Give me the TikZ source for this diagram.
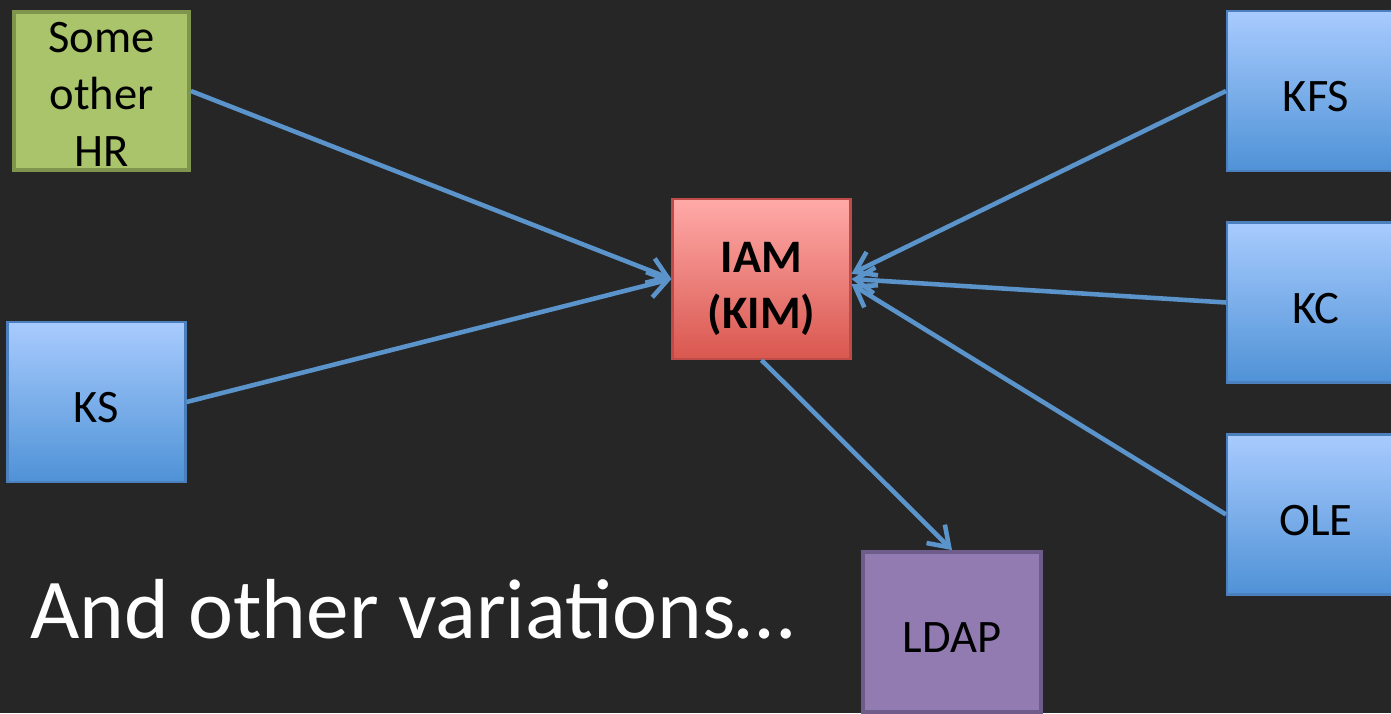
\documentclass[tikz,border=0pt]{standalone}
\usepackage{fontspec}
\setmainfont{Carlito}
\usetikzlibrary{arrows.meta}

\definecolor{bgdark}{HTML}{262626}
\definecolor{linkblue}{HTML}{5B93CB}
\definecolor{bluetop}{HTML}{A8CBFE}
\definecolor{bluebot}{HTML}{4F92D6}
\definecolor{blueedge}{HTML}{4B7FBE}
\definecolor{redtop}{HTML}{FFAAA8}
\definecolor{redbot}{HTML}{D9574F}
\definecolor{rededge}{HTML}{BE4B48}
\definecolor{greenfill}{HTML}{A9C46A}
\definecolor{greenedge}{HTML}{7F944D}
\definecolor{purplefill}{HTML}{917BB1}
\definecolor{purpleedge}{HTML}{6E5C8B}

\tikzset{
  sysbox/.style={draw=blueedge, line width=1.2pt, top color=bluetop, bottom color=bluebot,
    minimum width=3.56cm, minimum height=3.2cm, inner sep=0pt},
  hrbox/.style={sysbox, draw=greenedge, line width=2.2pt, fill=greenfill, top color=greenfill, bottom color=greenfill,
    minimum width=3.5cm, minimum height=3.15cm},
  iambox/.style={sysbox, draw=rededge, top color=redtop, bottom color=redbot},
  ldapbox/.style={sysbox, draw=purpleedge, line width=2.2pt, top color=purplefill, bottom color=purplefill},
  boxtext/.style={align=center, inner sep=0pt, yshift=-0.12cm, font=\fontsize{26.5}{32.4}\selectfont},
  link/.style={draw=linkblue, line width=2.6pt, -{Straight Barb[length=0.38cm, width=0.52cm, line width=2.6pt]}}
}

\begin{document}
\begin{tikzpicture}[x=0.02cm, y=-0.02cm]  % pixel grid, y grows downwards
    \fill[bgdark] (0,0) rectangle (1391,713);  % dark slide background
    \useasboundingbox (0,0) rectangle (1391,713);

    \node[hrbox, label={[boxtext, name=hrtext, yshift=0.05cm]center:Some\\other\\HR}] (hr) at (101.5,91) {};  % green source box
    \node[sysbox, label={[boxtext, name=kstext]center:KS}] (ks) at (96.5,402) {};  % left blue box
    \node[iambox, label={[boxtext, name=iamtext, yshift=-0.08cm, font=\fontsize{26.5}{31.6}\selectfont\bfseries]center:IAM\\(KIM)}] (iam) at (761.5,279) {};  % central red box
    \node[sysbox, label={[boxtext, name=kfstext]center:KFS}] (kfs) at (1316,91) {};  % right blue boxes
    \node[sysbox, label={[boxtext, name=kctext]center:KC}] (kc) at (1316,302.5) {};
    \node[sysbox, label={[boxtext, name=oletext]center:OLE}] (ole) at (1316,514.5) {};
    \node[ldapbox, label={[boxtext, name=ldaptext]center:LDAP}] (ldap) at (952,632) {};  % purple target box
    \node[anchor=base west, text=white, inner sep=0pt, font=\fontsize{48.5}{58}\selectfont] (note) at (30,638) {And other variations…};  % caption

    \draw[link] (hr.east) -- (iam.west);  % arrows into IAM
    \draw[link] (ks.east) -- (iam.west);
    \draw[link] (kfs.west) -- ([yshift=3]iam.east);
    \draw[link] (kc.west) -- (iam.east);
    \draw[link] (ole.west) -- ([yshift=-3]iam.east);
    \draw[link] (iam.south) -- (ldap.north);  % arrow out to LDAP
\end{tikzpicture}
\end{document}
